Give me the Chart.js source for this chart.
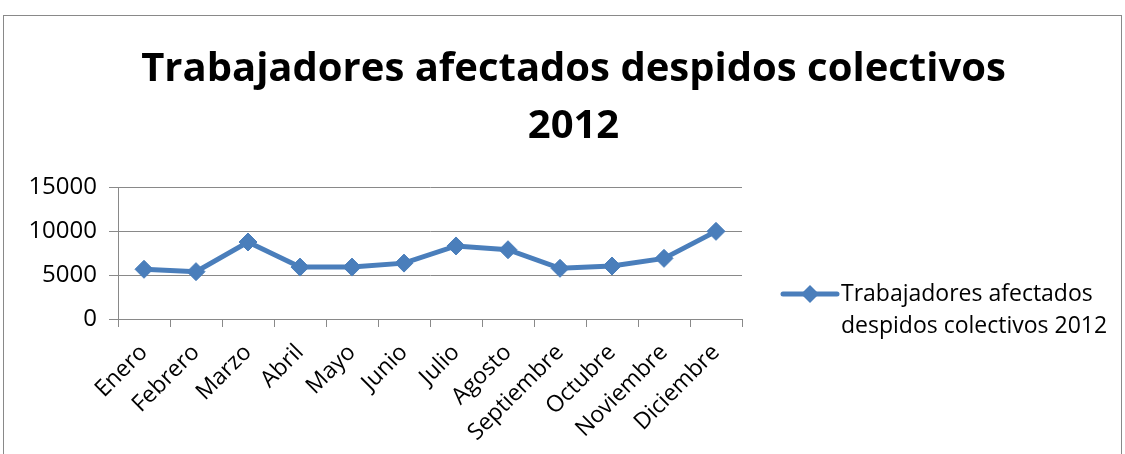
<!DOCTYPE html>
<html>
<head>
<meta charset="utf-8">
<script src="https://cdn.jsdelivr.net/npm/chart.js@4/dist/chart.umd.min.js"></script>
<style>
    body { margin: 0; background: #fff; }
    #wrap { position: relative; width: 1125px; height: 454px; overflow: hidden; }
    #frame { position: absolute; left: 3px; top: 15px; width: 1119px; height: 460px; border: 1px solid #898989; box-sizing: border-box; }
    #chart { position: absolute; left: 0; top: 0; }
</style>
</head>
<body>
<div id="wrap">
    <div id="frame"></div>
    <canvas id="chart" width="1125" height="454"></canvas>
</div>
<script>
// Chart data
const months = ['Enero', 'Febrero', 'Marzo', 'Abril', 'Mayo', 'Junio', 'Julio', 'Agosto', 'Septiembre', 'Octubre', 'Noviembre', 'Diciembre'];
const workers = [5650, 5380, 8750, 5900, 5900, 6350, 8300, 7870, 5760, 6020, 6890, 9960];
const yTicks = [0, 5000, 10000, 15000];
const seriesName = ['Trabajadores afectados', 'despidos colectivos 2012'];
const chartTitle = ['Trabajadores afectados despidos colectivos', '2012'];

const blue = '#4a7ebb';
const gray = '#898989';
const fontFamily = '"Open Sans", Lato, sans-serif';

// Legend drawn on the right, text wraps on two lines
const sideLegend = {
    id: 'sideLegend',
    afterDraw(chart) {
        const ctx = chart.ctx;
        const y = 294;
        ctx.save();
        ctx.strokeStyle = blue;
        ctx.lineWidth = 5;
        ctx.lineCap = 'round';
        ctx.beginPath();
        ctx.moveTo(783, y);
        ctx.lineTo(837, y);
        ctx.stroke();
        ctx.fillStyle = blue;
        ctx.beginPath();
        ctx.moveTo(810, y - 9);
        ctx.lineTo(819, y);
        ctx.lineTo(810, y + 9);
        ctx.lineTo(801, y);
        ctx.closePath();
        ctx.fill();
        ctx.fillStyle = '#000';
        ctx.font = '23px ' + fontFamily;
        ctx.textBaseline = 'middle';
        ctx.fillText(seriesName[0], 841, y);
        ctx.fillText(seriesName[1], 841, y + 32);
        ctx.restore();
    }
};

const ctx = document.getElementById('chart').getContext('2d');
new Chart(ctx, {
    type: 'line',
    data: {
        labels: months,
        datasets: [{
            label: seriesName.join(' '),
            data: workers,
            borderColor: blue,
            backgroundColor: blue,
            borderWidth: 5,
            tension: 0,
            pointStyle: 'rectRot',
            pointRadius: 9,
            pointBackgroundColor: blue,
            pointBorderColor: blue,
            pointBorderWidth: 1
        }]
    },
    options: {
        responsive: false,
        animation: false,
        layout: { padding: { left: 22, right: 0, top: 0, bottom: 0 } },
        plugins: {
            legend: { display: false },
            tooltip: { enabled: false },
            title: {
                display: true,
                text: chartTitle,
                color: '#000',
                font: { family: fontFamily, size: 40, weight: 'bold', lineHeight: 1.425 },
                padding: { top: 41, bottom: 32 }
            }
        },
        scales: {
            x: {
                offset: true,
                grid: { offset: true, drawOnChartArea: false, drawTicks: true, tickLength: 8, color: gray },
                border: { color: gray, width: 1 },
                ticks: {
                    color: '#000',
                    font: { family: fontFamily, size: 23 },
                    minRotation: 45,
                    maxRotation: 45,
                    autoSkip: false,
                    padding: 12
                },
                afterFit(scale) { scale.height = 135; }
            },
            y: {
                min: 0,
                max: 15000,
                afterBuildTicks(scale) { scale.ticks = yTicks.map(v => ({ value: v })); },
                grid: { color: gray, lineWidth: 1, drawTicks: true, tickLength: 9 },
                border: { color: gray, width: 1 },
                ticks: {
                    color: '#000',
                    font: { family: fontFamily, size: 24 },
                    padding: 12,
                    callback: v => String(v)
                },
                afterFit(scale) { scale.width = 96; }
            },
            // empty right axis reserving room for the legend
            side: {
                position: 'right',
                min: 0,
                max: 1,
                grid: { display: false },
                border: { display: false },
                ticks: { display: false },
                afterFit(scale) { scale.width = 383; }
            }
        }
    },
    plugins: [sideLegend]
});
</script>
</body>
</html>
